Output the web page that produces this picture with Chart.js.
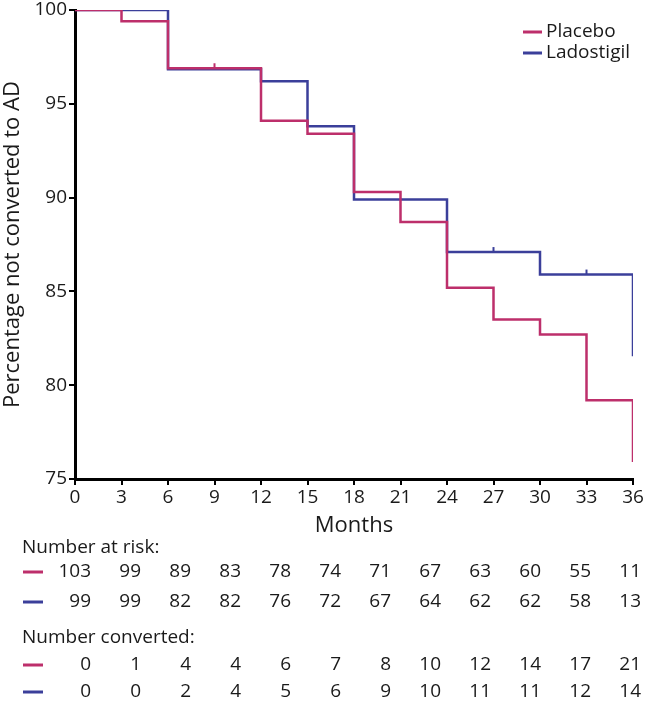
<!DOCTYPE html>
<html>
<head>
<meta charset="utf-8">
<title>Conversion to AD</title>
<script src="https://cdn.jsdelivr.net/npm/chart.js@4.4.1/dist/chart.umd.min.js"></script>
<style>
  html, body { margin: 0; padding: 0; background: #fff; }
  #wrap { width: 646px; height: 705px; position: relative; }
</style>
</head>
<body>
<div id="wrap"><canvas id="kmChart"></canvas></div>
<script>
// months on the x axis, Kaplan-Meier level from each month to the next
const months = [0, 3, 6, 9, 12, 15, 18, 21, 24, 27, 30, 33, 36];
const placebo = [100, 99.4, 96.9, 96.9, 94.1, 93.4, 90.3, 88.7, 85.2, 83.5, 82.7, 79.2, 75.9];
const ladostigil = [100, 100, 96.85, 96.85, 96.2, 93.8, 89.9, 89.9, 87.1, 87.1, 85.9, 85.9, 81.55];
// censoring marks (months)
const placeboCensored = [9];
const ladostigilCensored = [3, 27, 33];

const yTicks = [75, 80, 85, 90, 95, 100];

const atRiskPlacebo = [103, 99, 89, 83, 78, 74, 71, 67, 63, 60, 55, 11];
const atRiskLadostigil = [99, 99, 82, 82, 76, 72, 67, 64, 62, 62, 58, 13];
const convertedPlacebo = [0, 1, 4, 4, 6, 7, 8, 10, 12, 14, 17, 21];
const convertedLadostigil = [0, 0, 2, 4, 5, 6, 9, 10, 11, 11, 12, 14];

const seriesNames = ['Placebo', 'Ladostigil'];
const pink = '#bd2f6b';
const blue = '#3b3f9a';
const ink = '#1a1a1a';

Chart.defaults.font.family = '"Open Sans", "Noto Sans", sans-serif';
Chart.defaults.color = ink;

// each point sits at the start of its level, so the step drops at the next month
function toPoints(ys) {
    return months.map((m, i) => ({ x: m, y: ys[i] }));
}
// level of the curve just before month t
function levelAt(ys, t) {
    let v = ys[0];
    months.forEach((m, i) => { if (m < t) v = ys[i]; });
    return v;
}
// small tick mark sitting on top of the curve
function censorMark(color) {
    const c = document.createElement('canvas');
    c.width = 4; c.height = 14;
    const g = c.getContext('2d');
    g.strokeStyle = color;
    g.lineWidth = 2;
    g.beginPath(); g.moveTo(2, 2); g.lineTo(2, 7); g.stroke();
    return c;
}

const legendPlugin = {
    id: 'cornerLegend',
    afterDraw(chart) {
        const ctx = chart.ctx;
        ctx.save();
        ctx.font = '19px "Open Sans"';
        ctx.textBaseline = 'middle';
        ctx.fillStyle = ink;
        [pink, blue].forEach((col, i) => {
            const y = 32 + i * 21;
            ctx.strokeStyle = col;
            ctx.lineWidth = 3;
            ctx.beginPath(); ctx.moveTo(523, y); ctx.lineTo(542, y); ctx.stroke();
            ctx.fillText(seriesNames[i], 546, y);
        });
        ctx.restore();
    }
};

const tablePlugin = {
    id: 'riskTable',
    afterDraw(chart) {
        const ctx = chart.ctx;
        ctx.save();
        ctx.font = '19px "Open Sans"';
        ctx.textBaseline = 'middle';
        ctx.fillStyle = ink;
        const rows = [
            { head: 'Number at risk:', y: 548 },
            { vals: atRiskPlacebo, col: pink, y: 572 },
            { vals: atRiskLadostigil, col: blue, y: 602 },
            { head: 'Number converted:', y: 638 },
            { vals: convertedPlacebo, col: pink, y: 665 },
            { vals: convertedLadostigil, col: blue, y: 692 }
        ];
        rows.forEach(r => {
            if (r.head) {
                ctx.textAlign = 'left';
                ctx.fillText(r.head, 22, r.y);
                return;
            }
            ctx.strokeStyle = r.col;
            ctx.lineWidth = 3;
            ctx.beginPath(); ctx.moveTo(23, r.y); ctx.lineTo(43, r.y); ctx.stroke();
            ctx.textAlign = 'right';
            r.vals.forEach((v, i) => ctx.fillText(String(v), 91 + i * 50, r.y));
        });
        ctx.restore();
    }
};

const axisStyle = {
    grid: { display: true, drawOnChartArea: false, drawTicks: true, tickLength: 6, color: '#000', lineWidth: 2 },
    border: { display: true, color: '#000', width: 3 }
};

new Chart(document.getElementById('kmChart'), {
    type: 'line',
    data: {
        datasets: [
            {
                label: seriesNames[0], data: toPoints(placebo), stepped: 'before',
                borderColor: pink, borderWidth: 2.5, pointRadius: 0, fill: false
            },
            {
                label: seriesNames[1], data: toPoints(ladostigil), stepped: 'before',
                borderColor: blue, borderWidth: 2.5, pointRadius: 0, fill: false
            },
            {
                label: 'censored placebo', type: 'scatter',
                data: placeboCensored.map(t => ({ x: t, y: levelAt(placebo, t) })),
                pointStyle: censorMark(pink), pointRadius: 7, showLine: false
            },
            {
                label: 'censored ladostigil', type: 'scatter',
                data: ladostigilCensored.map(t => ({ x: t, y: levelAt(ladostigil, t) })),
                pointStyle: censorMark(blue), pointRadius: 7, showLine: false
            }
        ]
    },
    options: {
        responsive: true,
        maintainAspectRatio: false,
        animation: false,
        layout: { padding: { top: 0, right: 13, bottom: 164, left: 0 } },
        plugins: { legend: { display: false }, tooltip: { enabled: false } },
        scales: {
            x: {
                type: 'linear', min: 0, max: 36,
                ...axisStyle,
                ticks: { stepSize: 3, font: { size: 19 }, color: ink, padding: 1, maxRotation: 0 },
                title: { display: true, text: 'Months', font: { size: 22 }, color: ink, padding: { top: 3, bottom: 2 } },
                afterFit: s => { s.height = 62; }
            },
            y: {
                min: 75, max: 100,
                ...axisStyle,
                afterBuildTicks: s => { s.ticks = yTicks.map(v => ({ value: v })); },
                ticks: { font: { size: 19, lineHeight: 0.85 }, color: ink, padding: 2 },
                title: { display: true, text: 'Percentage not converted to AD', font: { size: 22 }, color: ink, padding: 0 },
                afterFit: s => { s.width = 75; }
            }
        }
    },
    plugins: [legendPlugin, tablePlugin]
});
</script>
</body>
</html>
